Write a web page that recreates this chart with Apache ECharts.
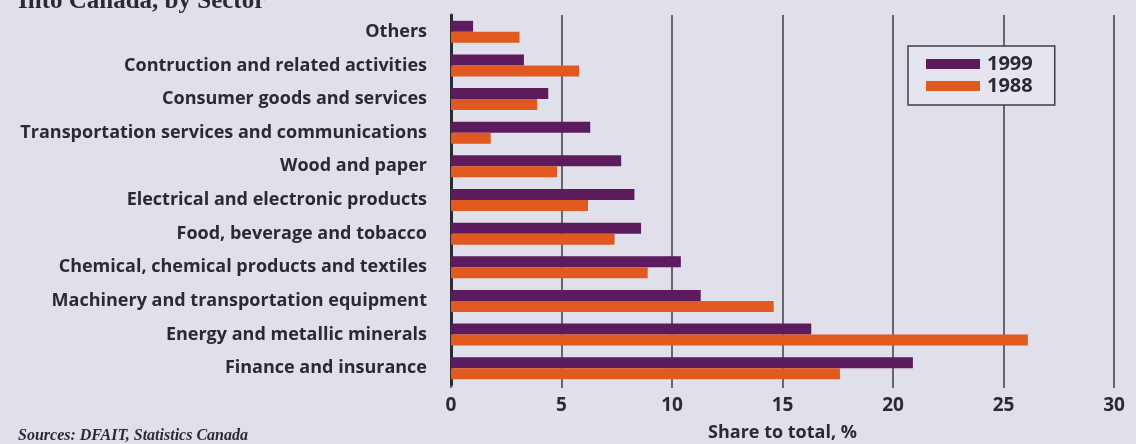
<!DOCTYPE html>
<html>
<head>
<meta charset="utf-8">
<script src="https://cdn.jsdelivr.net/npm/echarts@6/dist/echarts.min.js"></script>
<style>
  html, body { margin: 0; padding: 0; background: #dfe0ea; }
  #chart { width: 1136px; height: 444px; }
</style>
</head>
<body>
<div id="chart"></div>
<script>
// sectors, top to bottom
const sectors = [
  'Others',
  'Contruction and related activities',
  'Consumer goods and services',
  'Transportation services and communications',
  'Wood and paper',
  'Electrical and electronic products',
  'Food, beverage and tobacco',
  'Chemical, chemical products and textiles',
  'Machinery and transportation equipment',
  'Energy and metallic minerals',
  'Finance and insurance'
];
const share1999 = [1.0, 3.3, 4.4, 6.3, 7.7, 8.3, 8.6, 10.4, 11.3, 16.3, 20.9];
const share1988 = [3.1, 5.8, 3.9, 1.8, 4.8, 6.2, 7.4, 8.9, 14.6, 26.1, 17.6];
const xTicks = { min: 0, max: 30, interval: 5 };

const chart = echarts.init(document.getElementById('chart'));
const textColor = '#2a2a36';
const lineColor = '#3e3e48';
const font = 'Open Sans';

const option = {
  backgroundColor: '#dfe0ea',
  animation: false,
  title: [
    {
      text: 'Into Canada, by Sector',
      left: 13,
      top: -16,
      textStyle: { fontFamily: 'Liberation Serif', fontWeight: 'bold', fontSize: 25, color: textColor }
    },
    {
      text: 'Sources: DFAIT, Statistics Canada',
      left: 13,
      top: 423,
      textStyle: { fontFamily: 'Liberation Serif', fontStyle: 'italic', fontWeight: 'bold', fontSize: 16, color: textColor }
    }
  ],
  legend: {
    data: ['1999', '1988'],
    orient: 'vertical',
    left: 908,
    top: 46,
    padding: [8, 22, 9, 18],
    itemGap: 2,
    itemWidth: 54,
    itemHeight: 10,
    icon: 'rect',
    borderColor: lineColor,
    borderWidth: 1.5,
    borderRadius: 0,
    backgroundColor: '#e4e5ee',
    textStyle: { fontFamily: font, fontWeight: 'bold', fontSize: 20, lineHeight: 18, color: textColor, padding: [0, 0, 0, 2] }
  },
  grid: { left: 451, right: 22, top: 15, bottom: 59, outerBoundsMode: 'none' },
  xAxis: {
    type: 'value',
    min: xTicks.min,
    max: xTicks.max,
    interval: xTicks.interval,
    name: 'Share to total, %',
    nameLocation: 'middle',
    nameGap: 39,
    nameTextStyle: { fontFamily: font, fontWeight: 'bold', fontSize: 18, color: textColor },
    axisLine: { show: false },
    axisTick: { show: true, length: 3, lineStyle: { color: lineColor, width: 1.5 } },
    axisLabel: { margin: 11, fontFamily: font, fontWeight: 'bold', fontSize: 19, color: textColor },
    splitLine: { show: true, lineStyle: { color: lineColor, width: 1.5 } }
  },
  yAxis: {
    type: 'category',
    data: sectors,
    inverse: true,
    axisLine: { show: true, lineStyle: { color: '#2a2a30', width: 3 } },
    axisTick: { show: false },
    axisLabel: { margin: 24, fontFamily: font, fontWeight: 'bold', fontSize: 18, color: textColor }
  },
  series: [
    {
      name: '1999',
      type: 'bar',
      data: share1999,
      barWidth: 11,
      barGap: '0%',
      itemStyle: { color: '#5b1b5d' }
    },
    {
      name: '1988',
      type: 'bar',
      data: share1988,
      barWidth: 11,
      barGap: '0%',
      itemStyle: { color: '#e2591f' }
    }
  ]
};

chart.setOption(option);
</script>
</body>
</html>
